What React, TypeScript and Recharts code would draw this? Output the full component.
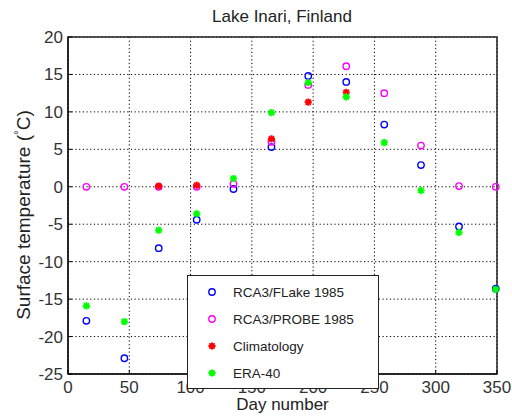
import React from "react";
import {
  ScatterChart,
  Scatter,
  XAxis,
  YAxis,
  CartesianGrid,
  ReferenceArea,
} from "recharts";

// mid-month day numbers
const days = [15, 46, 74, 105, 135, 166, 196, 227, 258, 288, 319, 349];
const flake1985 = [-17.9, -22.9, -8.2, -4.4, -0.3, 5.3, 14.8, 14.0, 8.3, 2.9, -5.3, -13.6];
const probe1985 = [0, 0, 0, 0, 0.4, 6.0, 13.6, 16.1, 12.5, 5.5, 0.1, 0];
const climDays = [74, 105, 166, 196, 227];
const climatology = [0.1, 0.2, 6.4, 11.3, 12.6];
const era40 = [-15.9, -18.0, -5.8, -3.6, 1.1, 9.9, 13.9, 12.0, 5.9, -0.5, -6.1, -13.7];

const xTicks = [0, 50, 100, 150, 200, 250, 300, 350];
const yTicks = [-25, -20, -15, -10, -5, 0, 5, 10, 15, 20];

const toPoints = (xs: number[], ys: number[]) =>
  xs.map((x, i) => ({ day: x, temp: ys[i] }));

type Kind = "circle" | "star";

const series: { name: string; color: string; kind: Kind; data: { day: number; temp: number }[] }[] = [
  { name: "RCA3/FLake 1985", color: "#0000ff", kind: "circle", data: toPoints(days, flake1985) },
  { name: "RCA3/PROBE 1985", color: "#ff00ff", kind: "circle", data: toPoints(days, probe1985) },
  { name: "Climatology", color: "#ff0000", kind: "star", data: toPoints(climDays, climatology) },
  { name: "ERA-40", color: "#00ff00", kind: "star", data: toPoints(days, era40) },
];

const FONT = '"Liberation Sans", Arial, Helvetica, sans-serif';

function Marker({ cx, cy, color, kind }: { cx: number; cy: number; color: string; kind: Kind }) {
  if (kind === "circle") {
    return <circle cx={cx} cy={cy} r={3.2} fill="none" stroke={color} strokeWidth={1.4} />;
  }
  const r = 3.6;
  const d = r * 0.72;
  return (
    <g stroke={color} strokeWidth={2}>
      <line x1={cx - r} y1={cy} x2={cx + r} y2={cy} />
      <line x1={cx} y1={cy - r} x2={cx} y2={cy + r} />
      <line x1={cx - d} y1={cy - d} x2={cx + d} y2={cy + d} />
      <line x1={cx - d} y1={cy + d} x2={cx + d} y2={cy - d} />
    </g>
  );
}

function Legend() {
  return (
    <div style={{ position: "absolute", left: 187, top: 275 }}>
      <svg width={192} height={114}>
        <rect x={0.5} y={0.5} width={191} height={113} fill="#fff" stroke="#222" strokeWidth={1} />
        {series.map((s, i) => {
          const cy = 17 + i * 27;
          return (
            <g key={s.name}>
              <Marker cx={25} cy={cy} color={s.color} kind={s.kind} />
              <text x={46} y={cy + 5} fontSize={13.5} fontFamily={FONT} fill="#222">
                {s.name}
              </text>
            </g>
          );
        })}
      </svg>
    </div>
  );
}

export default function App() {
  return (
    <div
      style={{
        position: "absolute",
        left: 0,
        top: 0,
        width: 512,
        height: 416,
        background: "#fff",
        fontFamily: FONT,
      }}
    >
      <ScatterChart
        width={512}
        height={416}
        margin={{ top: 37, right: 15, bottom: 0, left: 0 }}
      >
        <CartesianGrid stroke="#000" strokeDasharray="1.2 2.5" />
        <XAxis
          type="number"
          dataKey="day"
          domain={[0, 350]}
          ticks={xTicks}
          height={42}
          tickSize={-4}
          tickMargin={11}
          stroke="#000"
          tick={{ fill: "#333", fontSize: 17, fontFamily: FONT }}
          label={{
            value: "Day number",
            position: "insideBottom",
            offset: 6,
            fill: "#222",
            fontSize: 17,
            fontFamily: FONT,
          }}
        />
        <YAxis
          type="number"
          dataKey="temp"
          domain={[-25, 20]}
          ticks={yTicks}
          width={68}
          tickSize={-4}
          tickMargin={9}
          stroke="#000"
          tick={{ fill: "#333", fontSize: 17, fontFamily: FONT }}
        />
        <ReferenceArea
          x1={0}
          x2={350}
          y1={-25}
          y2={20}
          fill="none"
          fillOpacity={0}
          stroke="#222"
          strokeWidth={1.5}
        />
        {series.map((s) => (
          <Scatter
            key={s.name}
            name={s.name}
            data={s.data}
            isAnimationActive={false}
            shape={(p: any) => <Marker cx={p.cx} cy={p.cy} color={s.color} kind={s.kind} />}
          />
        ))}
      </ScatterChart>
      <svg
        width={512}
        height={416}
        style={{ position: "absolute", left: 0, top: 0, pointerEvents: "none" }}
      >
        <text x={282} y={22} textAnchor="middle" fontSize={17} fontFamily={FONT} fill="#222">
          Lake Inari, Finland
        </text>
        <text
          x={30}
          y={215}
          transform="rotate(-90 30 215)"
          textAnchor="middle"
          fontSize={19}
          fontFamily={FONT}
          fill="#222"
        >
          Surface temperature (
          <tspan fontSize={12} dy={-7}>°</tspan>
          <tspan dy={7}>C)</tspan>
        </text>
      </svg>
      <Legend />
    </div>
  );
}
